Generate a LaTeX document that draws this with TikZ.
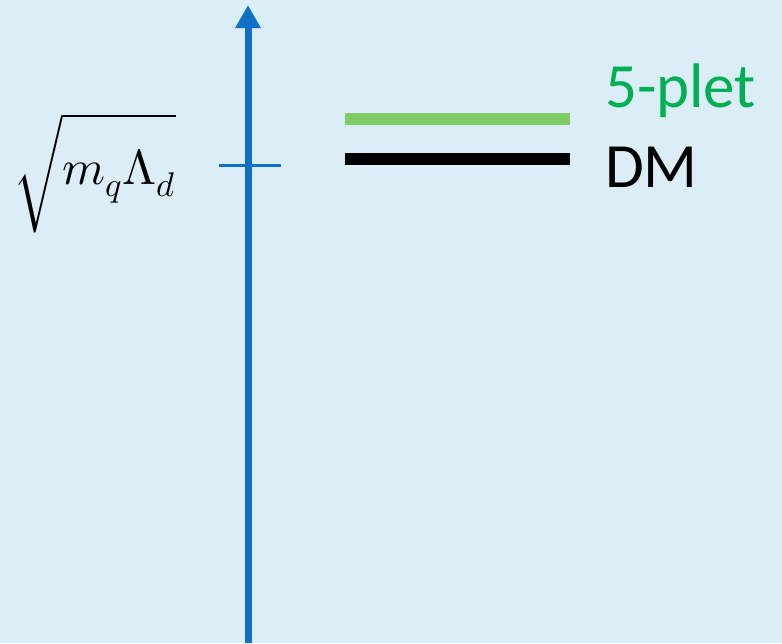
\documentclass[tikz,border=0pt]{standalone}
\usepackage{fontspec}
\usepackage{unicode-math}
\setmainfont{Carlito}
\setmathfont{Latin Modern Math}
\usetikzlibrary{arrows.meta, positioning}
\definecolor{bgblue}{RGB}{219,238,248}
\definecolor{axisblue}{RGB}{16,112,198}
\definecolor{levelgreen}{RGB}{126,204,99}
\definecolor{textgreen}{RGB}{0,176,80}
\begin{document}
\begin{tikzpicture}[x=1pt, y=-1pt,
    axis/.style={line width=7pt, color=axisblue,
                 -{Triangle[width=24pt, length=23pt]}},
    tick/.style={line width=3pt, color=axisblue},
    level/.style={line width=12pt},
    lbl/.style={anchor=base west, inner sep=0pt, font=\fontsize{63}{72}\selectfont}
]
% background
\fill[bgblue] (0,0) rectangle (782,643);
\useasboundingbox (0,0) rectangle (782,643);

% energy axis
\coordinate (ybot) at (248,643);
\coordinate (ytop) at (248,5);
\draw[axis] (ybot) -- (ytop);

% scale tick
\coordinate (tl) at (219,165);
\coordinate (tr) at (281,165);
\draw[tick] (tl) -- (tr);
\node[inner sep=0pt, anchor=base east, font=\fontsize{49}{56}\selectfont] (scale) at (176,184)
    {$\sqrt{\rule[-34pt]{0pt}{84pt}m_q\Lambda_d}$};

% levels
\coordinate (g1) at (345,119);
\coordinate (g2) at (570,119);
\coordinate (d1) at (345,159);
\coordinate (d2) at (570,159);
\draw[level, levelgreen] (g1) -- (g2);
\draw[level, black] (d1) -- (d2);

% labels
\node[lbl, text=textgreen] (plet) at (605,107) {5-plet};
\node[lbl, text=black] (dm) at (605,187) {DM};
\end{tikzpicture}
\end{document}
